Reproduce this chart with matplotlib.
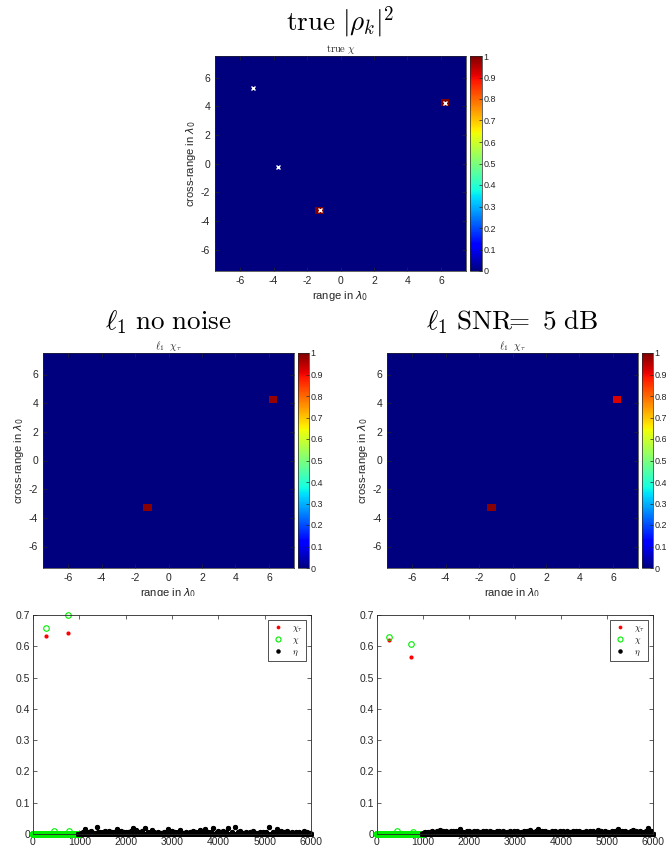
import numpy as np
import matplotlib
matplotlib.use("Agg")
import matplotlib.pyplot as plt
from matplotlib.patches import Rectangle

# image grid: 30 x 30 cells of 0.5 lambda on [-7.5, 7.5]
EDGE = 7.5
NCELL = 30

# true chi: cell centres and values
true_px = [6.25, -1.25]
true_py = [4.25, -3.25]
true_val = [1.0, 1.0]

# scatterer positions (white crosses)
scat_x = [6.25, -1.25, -5.25, -3.75]
scat_y = [4.25, -3.25, 5.25, -0.25]

# l1 reconstructions
l1_px = [6.25, -1.25]
l1_py = [4.25, -3.25]
l1_clean_val = [0.98, 0.99]
l1_snr5_val = [0.92, 0.99]

# chi vs. index, no noise
clean_chir_idx = [274, 749]
clean_chir_val = [0.632, 0.641]
clean_chi_idx = [274, 751, 453, 784]
clean_chi_val = [0.659, 0.699, 0.010, 0.008]

# chi vs. index, SNR = 5 dB
snr_chir_idx = [268, 746]
snr_chir_val = [0.620, 0.567]
snr_chi_idx = [268, 746, 443, 791]
snr_chi_val = [0.629, 0.607, 0.010, 0.005]

N_CHI = 975
N_TOT = 6000

# eta (noise part) bumps above the baseline
clean_eta_idx = [1030, 1080, 1122, 1170, 1200, 1260, 1310, 1374, 1410, 1450,
                 1510, 1560, 1600, 1640, 1700, 1750, 1806, 1850, 1900, 1960,
                 2000, 2050, 2110, 2165, 2230, 2290, 2350, 2417, 2480, 2561,
                 2620, 2700, 2760, 2820, 2870, 2921, 3000, 3060, 3120, 3173,
                 3240, 3300, 3380, 3450, 3520, 3604, 3660, 3712, 3780, 3840,
                 3892, 3950, 4000, 4050, 4100, 4160, 4216, 4290, 4360, 4420,
                 4468, 4530, 4600, 4680, 4755, 4820, 4900, 4960, 5030, 5101,
                 5170, 5259, 5350, 5420, 5475, 5540, 5600, 5680, 5750, 5800,
                 5856, 5920, 5970]
clean_eta_val = [0.004, 0.006, 0.015, 0.005, 0.006, 0.009, 0.004, 0.023, 0.005, 0.007,
                 0.006, 0.009, 0.004, 0.010, 0.005, 0.007, 0.016, 0.004, 0.008, 0.005,
                 0.006, 0.007, 0.010, 0.020, 0.012, 0.006, 0.008, 0.018, 0.005, 0.013,
                 0.006, 0.006, 0.004, 0.007, 0.005, 0.016, 0.008, 0.005, 0.006, 0.013,
                 0.004, 0.007, 0.005, 0.009, 0.006, 0.014, 0.005, 0.016, 0.007, 0.006,
                 0.018, 0.004, 0.009, 0.006, 0.011, 0.005, 0.020, 0.006, 0.021, 0.005,
                 0.011, 0.004, 0.007, 0.006, 0.010, 0.004, 0.006, 0.005, 0.007, 0.021,
                 0.006, 0.015, 0.008, 0.005, 0.011, 0.004, 0.006, 0.005, 0.007, 0.004,
                 0.008, 0.005, 0.004]

snr_eta_idx = [1000, 1050, 1110, 1160, 1200, 1260, 1310, 1370, 1430, 1500,
               1560, 1600, 1650, 1710, 1760, 1804, 1870, 1950, 2000, 2060,
               2110, 2167, 2230, 2300, 2370, 2450, 2520, 2602, 2660, 2750,
               2820, 2900, 2970, 3050, 3120, 3200, 3260, 3326, 3400, 3450,
               3507, 3580, 3650, 3720, 3800, 3870, 3930, 3978, 4050, 4120,
               4190, 4268, 4330, 4400, 4470, 4550, 4620, 4700, 4760, 4811,
               4880, 4950, 5020, 5100, 5170, 5246, 5320, 5400, 5470, 5520,
               5572, 5640, 5720, 5800, 5850, 5898, 5960]
snr_eta_val = [0.004, 0.006, 0.007, 0.005, 0.008, 0.007, 0.009, 0.013, 0.008, 0.010,
               0.007, 0.009, 0.011, 0.008, 0.009, 0.016, 0.007, 0.009, 0.008, 0.007,
               0.010, 0.009, 0.007, 0.010, 0.008, 0.008, 0.007, 0.011, 0.008, 0.009,
               0.007, 0.010, 0.008, 0.008, 0.007, 0.009, 0.008, 0.012, 0.007, 0.009,
               0.015, 0.008, 0.009, 0.007, 0.010, 0.008, 0.007, 0.011, 0.008, 0.008,
               0.007, 0.009, 0.008, 0.010, 0.007, 0.008, 0.008, 0.009, 0.007, 0.014,
               0.008, 0.010, 0.007, 0.009, 0.008, 0.015, 0.008, 0.009, 0.007, 0.008,
               0.012, 0.008, 0.010, 0.007, 0.009, 0.020, 0.008]

TICK_C = "#262626"
plt.rcParams["font.family"] = ["Liberation Sans", "DejaVu Sans"]
plt.rcParams["axes.unicode_minus"] = False
plt.rcParams["xtick.direction"] = "in"
plt.rcParams["ytick.direction"] = "in"


def cells(px, py, val):
    img = np.zeros((NCELL, NCELL))
    step = 2 * EDGE / NCELL
    for x, y, v in zip(px, py, val):
        j = int((x + EDGE) // step)
        i = int((y + EDGE) // step)
        img[i, j] = v
    return img


def heatmap(fig, rect, crect, img, small, big, big_y, crosses=False):
    ax = fig.add_axes(rect)
    im = ax.imshow(img, origin="lower", extent=[-EDGE, EDGE, -EDGE, EDGE],
                   cmap="jet", vmin=0, vmax=1, aspect="auto",
                   interpolation="nearest")
    if crosses:
        ax.plot(scat_x, scat_y, "x", color="white", ms=2.5, mew=1.0)
    ax.set_xlim(-EDGE, EDGE)
    ax.set_ylim(-EDGE, EDGE)
    ax.set_xticks(np.arange(-6, 7, 2))
    ax.set_yticks(np.arange(-6, 7, 2))
    ax.tick_params(labelsize=7.5, colors=TICK_C, length=3, width=0.5,
                   top=True, right=True)
    for s in ax.spines.values():
        s.set_color(TICK_C)
        s.set_linewidth(0.5)
    ax.set_xlabel(r"range in $\lambda_0$", fontsize=8, color=TICK_C, labelpad=2)
    ax.set_ylabel(r"cross-range in $\lambda_0$", fontsize=8, color=TICK_C,
                  labelpad=2)
    ax.set_title(small, fontsize=7.5, pad=3, math_fontfamily="cm",
                 color=TICK_C)
    fig.text(rect[0] + rect[2] / 2, big_y, big, fontsize=19.5, ha="center",
             va="center", math_fontfamily="cm")

    cax = fig.add_axes(crect)
    cb = fig.colorbar(im, cax=cax, ticks=np.linspace(0, 1, 11))
    cb.ax.set_yticklabels(["0", "0.1", "0.2", "0.3", "0.4", "0.5", "0.6",
                           "0.7", "0.8", "0.9", "1"])
    cb.ax.tick_params(labelsize=6.5, colors=TICK_C, length=2, width=0.5,
                      direction="in", pad=1)
    cb.outline.set_linewidth(0.5)
    cb.outline.set_edgecolor(TICK_C)
    return ax


def scatter_panel(fig, rect, chir_idx, chir_val, chi_idx, chi_val,
                  eta_idx, eta_val):
    ax = fig.add_axes(rect)
    chir = np.zeros(N_CHI)
    chir[chir_idx] = chir_val
    chi = np.zeros(N_CHI)
    chi[chi_idx] = chi_val
    eta_x = np.arange(N_CHI, N_TOT)
    eta = np.zeros(N_TOT - N_CHI)
    eta[np.array(eta_idx) - N_CHI] = eta_val

    idx = np.arange(N_CHI)
    ax.plot(idx, chir, "o", color="red", ms=3, mew=0, label=r"$\chi_\tau$",
            clip_on=False)
    ax.plot(idx, chi, "o", mfc="none", mec="#00ee00", ms=4, mew=0.8,
            label=r"$\chi$", clip_on=False)
    ax.plot(eta_x, eta, "o", color="black", ms=3.6, mew=0, label=r"$\eta$",
            clip_on=False)
    ax.plot(eta_idx, eta_val, "o", color="black", ms=3.8, mew=0,
            clip_on=False)

    ax.set_xlim(0, N_TOT)
    ax.set_ylim(0, 0.7)
    ax.set_xticks(np.arange(0, 6001, 1000))
    ax.set_yticks(np.arange(0, 0.71, 0.1))
    ax.set_yticklabels(["0", "0.1", "0.2", "0.3", "0.4", "0.5", "0.6", "0.7"])
    ax.tick_params(labelsize=7.5, colors=TICK_C, length=3, width=0.5,
                   top=True, right=True, pad=2)
    for s in ax.spines.values():
        s.set_color(TICK_C)
        s.set_linewidth(0.6)
    leg = ax.legend(loc="upper right", prop={"size": 6.5}, fancybox=False,
                    edgecolor="black", handletextpad=0.6, borderpad=0.3,
                    labelspacing=0.12, handlelength=1.8, markerscale=0.9,
                    borderaxespad=0.6)
    leg.get_frame().set_linewidth(0.6)
    for t in leg.get_texts():
        t.set_math_fontfamily("cm")
    return ax


fig = plt.figure(figsize=(6.66, 8.5), dpi=100)
W, H = 666.0, 850.0


def box(x0, x1, y0, y1):
    return [x0 / W, 1 - y1 / H, (x1 - x0) / W, (y1 - y0) / H]


heatmap(fig, box(215, 466, 56, 271), box(470, 482, 56, 271),
        cells(true_px, true_py, true_val),
        r"$\mathrm{true}\ \chi$", r"$\mathrm{true}\ |\rho_k|^2$", 1 - 22 / H,
        crosses=True)
heatmap(fig, box(43, 294, 353, 568), box(298, 309, 353, 568),
        cells(l1_px, l1_py, l1_clean_val),
        r"$\ell_1\ \ \chi_\tau$", r"$\ell_1\ \mathrm{no\ noise}$", 1 - 322 / H)
heatmap(fig, box(387, 638, 353, 568), box(642, 653, 353, 568),
        cells(l1_px, l1_py, l1_snr5_val),
        r"$\ell_1\ \ \chi_\tau$",
        r"$\ell_1\ \mathrm{SNR}\!\!=\ 5\ \mathrm{dB}$", 1 - 322 / H)

# the lower row sits on top of the middle x labels
fig.patches.append(Rectangle((0, 1 - 609 / H), 1, 13 / H,
                             transform=fig.transFigure, facecolor="white",
                             edgecolor="none", zorder=3))

scatter_panel(fig, box(33, 311, 615, 834), clean_chir_idx, clean_chir_val,
              clean_chi_idx, clean_chi_val, clean_eta_idx, clean_eta_val)
scatter_panel(fig, box(377, 653, 615, 834), snr_chir_idx, snr_chir_val,
              snr_chi_idx, snr_chi_val, snr_eta_idx, snr_eta_val)

fig.savefig("out.png", dpi=100)
